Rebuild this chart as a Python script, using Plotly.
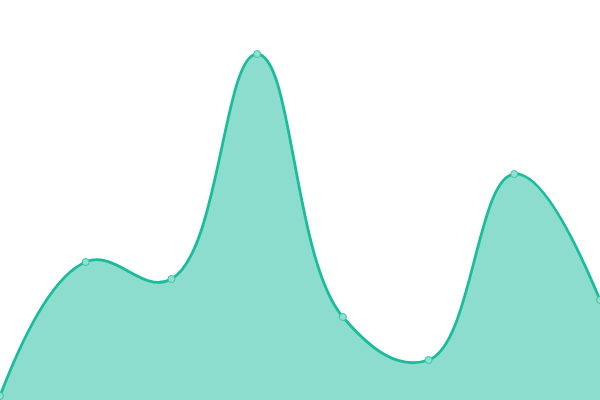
import plotly.graph_objects as go

categories = [0, 1, 2, 3, 4, 5, 6, 7]
values = [1, 34.5, 30.25, 86.5, 20.75, 10, 56.5, 25]

line_color = "#1abc9c"
fill_color = "rgba(26,188,156,0.5)"

fig = go.Figure()
fig.add_trace(go.Scatter(
    x=categories, y=values,
    mode="lines+markers",
    line=dict(color=line_color, width=2.8, shape="spline", smoothing=1.2),
    fill="tozeroy", fillcolor=fill_color,
    marker=dict(size=7, color="#8ee0cf", line=dict(color="#3cc4a8", width=1)),
    hoverinfo="skip",
    cliponaxis=False,
))
fig.update_layout(
    width=600, height=400,
    margin=dict(l=0, r=0, t=0, b=0),
    paper_bgcolor="white", plot_bgcolor="white",
    showlegend=False,
    xaxis=dict(range=[0, 7], visible=False, fixedrange=True),
    yaxis=dict(range=[0, 100], visible=False, fixedrange=True),
)
fig.write_html(
    "out.html",
    config={"displayModeBar": False},
    post_script="document.body.style.margin='0';document.body.style.overflow='hidden';",
)
